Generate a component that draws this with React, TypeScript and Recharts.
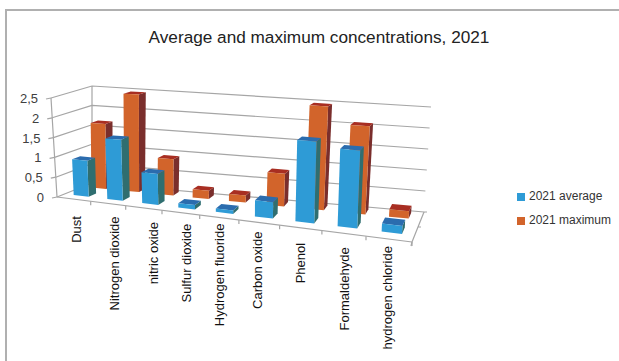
import React from 'react';
import { BarChart, Bar, XAxis, YAxis, CartesianGrid, Legend } from 'recharts';

const CATEGORIES = ['Dust', 'Nitrogen dioxide', 'nitric oxide', 'Sulfur dioxide', 'Hydrogen fluoride', 'Carbon oxide', 'Phenol', 'Formaldehyde', 'hydrogen chloride'];
const AVERAGE = [0.9, 1.5, 0.75, 0.1, 0.08, 0.37, 1.82, 1.7, 0.17];
const MAXIMUM = [1.65, 2.45, 0.9, 0.2, 0.17, 0.78, 2.45, 2.05, 0.17];
const Y_TICKS = [0, 0.5, 1, 1.5, 2, 2.5];

// small hand offsets for the rotated category labels
const LABEL_DX = [7, 11, 14, 10, 5, 3, 4, 5, 3];
const LABEL_DY = [17, 13, 14, 11, 6, 9, 15, 14, 7];

const rows = CATEGORIES.map((name, i) => ({ name, average: AVERAGE[i], maximum: MAXIMUM[i] }));

// flat plot rectangle that recharts lays the scales out in
const PLOT = { left: 100, top: 60, width: 360, height: 200 };
const BAR_W = 18;

type Pt = [number, number];

// floor corners of the 3D box on screen: front left, front right, back right, back left
const FLOOR: Pt[] = [[57, 197], [412, 242], [424, 212], [92, 183]];
// screen vector of the full value axis at those same corners
const RISE: Pt[] = [[-6, -99], [6, -122], [7, -105], [0, -97]];

const bilinear = (q: Pt[], u: number, w: number): Pt => {
  const a = (1 - u) * (1 - w), b = u * (1 - w), c = u * w, d = (1 - u) * w;
  return [a * q[0][0] + b * q[1][0] + c * q[2][0] + d * q[3][0], a * q[0][1] + b * q[1][1] + c * q[2][1] + d * q[3][1]];
};

// u along categories, v up the value axis, w into the depth
function project(u: number, v: number, w: number): Pt {
  const s = u / (1.19 - 0.19 * u); // slots widen towards the viewer
  const f = bilinear(FLOOR, s, w);
  const r = bilinear(RISE, s, w);
  return [f[0] + r[0] * v, f[1] + r[1] * v];
}

const toU = (x: number) => (x - PLOT.left) / PLOT.width;
const toV = (y: number) => (PLOT.top + PLOT.height - y) / PLOT.height;
const path = (pts: Pt[]) => 'M' + pts.map((p) => p[0].toFixed(1) + ' ' + p[1].toFixed(1)).join('L') + 'Z';
const seg = (a: Pt, b: Pt) => 'M' + a[0].toFixed(1) + ' ' + a[1].toFixed(1) + 'L' + b[0].toFixed(1) + ' ' + b[1].toFixed(1);

const Box3D = ({ x, y, width, height, depth, front, side, top }: any) => {
  const u0 = toU(x), u1 = toU(x + width);
  const v = toV(y), v0 = toV(y + height);
  const [w0, w1] = depth;
  return (
    <g>
      <path d={path([project(u1, v0, w0), project(u1, v0, w1), project(u1, v, w1), project(u1, v, w0)])} fill={side} />
      <path d={path([project(u0, v, w0), project(u1, v, w0), project(u1, v, w1), project(u0, v, w1)])} fill={top} />
      <path d={path([project(u0, v0, w0), project(u1, v0, w0), project(u1, v, w0), project(u0, v, w0)])} fill={front} />
    </g>
  );
};

// each horizontal grid line wraps around the left and back walls
const WallLine = ({ y1 }: any) => {
  const v = toV(y1);
  const d = seg(project(0, v, 0), project(0, v, 1)) + seg(project(0, v, 1), project(1, v, 1));
  const tickEnd = project(0, v, 0);
  return (
    <g>
      <path d={d} fill="none" stroke="#a6a6a6" strokeWidth={1.2} />
      <path d={seg(tickEnd, [tickEnd[0] - 5, tickEnd[1] + 1])} stroke="#a6a6a6" strokeWidth={1.2} />
      {v < 0.001 && (
        <path
          d={seg(project(0, 0, 0), project(1, 0, 0)) + seg(project(1, 0, 0), project(1, 0, 1)) +
            seg(project(1, 0, 0), [project(1, 0, 0)[0] - 1, project(1, 0, 0)[1] + 4]) +
            seg(project(1, 0, 0.5), [project(1, 0, 0.5)[0] + 3, project(1, 0, 0.5)[1]]) +
            seg(project(1, 0, 1), [project(1, 0, 1)[0] + 3, project(1, 0, 1)[1]]) +
            seg(project(0, 0, 0), project(0, 1, 0)) + seg(project(0, 0, 1), project(0, 1, 1))}
          fill="none"
          stroke="#a6a6a6"
          strokeWidth={1.2}
        />
      )}
    </g>
  );
};

const ValueTick = ({ y, payload }: any) => {
  const p = project(0, toV(y), 0);
  return (
    <text x={p[0] - 13} y={p[1] + 5} textAnchor="end" fontSize={13} fontFamily="Liberation Sans" fill="#404040">
      {String(payload.value).replace('.', ',')}
    </text>
  );
};

const CategoryTick = ({ x, index, payload }: any) => {
  const u = toU(x);
  const p = project(u, 0, 0);
  const edge = project(u + 0.5 / CATEGORIES.length, 0, 0);
  return (
    <g>
      <path d={seg(edge, [edge[0], edge[1] + 4])} stroke="#a6a6a6" strokeWidth={1.2} />
      <text
        transform={`translate(${p[0] + LABEL_DX[index]} ${p[1] + LABEL_DY[index]}) rotate(-90)`}
        textAnchor="end"
        fontSize={13}
        fontFamily="Liberation Sans"
        fill="#111"
      >
        {payload.value}
      </text>
    </g>
  );
};

export default function App() {
  return (
    <div style={{ position: 'fixed', left: 0, top: 0, width: 619, height: 361, background: '#fff', overflow: 'hidden' }}>
      <div style={{ position: 'absolute', left: 5, top: 9, width: 700, height: 400, border: '2px solid #b0b0b0' }} />
      <BarChart
        width={619}
        height={361}
        data={rows}
        barSize={BAR_W}
        barGap={-BAR_W}
        margin={{ left: 0, top: PLOT.top, right: 619 - PLOT.left - PLOT.width, bottom: 0 }}
        style={{ position: 'absolute', left: 0, top: 0 }}
      >
        <text x={319} y={43} textAnchor="middle" fontSize={17.2} fontFamily="Liberation Sans" fill="#222">
          Average and maximum concentrations, 2021
        </text>
        <CartesianGrid vertical={false} horizontal={(p: any) => <WallLine key={p.index} {...p} />} />
        <XAxis dataKey="name" height={361 - PLOT.top - PLOT.height} axisLine={false} tickLine={false} interval={0} tick={(p: any) => <CategoryTick {...p} />} />
        <YAxis domain={[0, 2.5]} ticks={Y_TICKS} interval={0} width={PLOT.left} axisLine={false} tickLine={false} tick={(p: any) => <ValueTick {...p} />} />
        <Legend
          layout="vertical"
          align="center"
          verticalAlign="middle"
          iconType="square"
          iconSize={8}
          formatter={(v: string) => <span style={{ color: '#333', whiteSpace: 'nowrap' }}>{v}</span>}
          wrapperStyle={{ left: 517, top: 184, width: 102, whiteSpace: 'nowrap', fontFamily: 'Liberation Sans', fontSize: 12, lineHeight: '24px' }}
        />
        <Bar
          dataKey="maximum"
          name="2021 maximum"
          fill="#d2642b"
          isAnimationActive={false}
          shape={(p: any) => <Box3D {...p} depth={[0.74, 0.93]} front="#d2642b" side="#7a2e2c" top="#a82e22" />}
        />
        <Bar
          dataKey="average"
          name="2021 average"
          fill="#2e9bd6"
          isAnimationActive={false}
          shape={(p: any) => <Box3D {...p} depth={[0.22, 0.44]} front="#2e9bd6" side="#2f6e70" top="#2b6cae" />}
        />
      </BarChart>
    </div>
  );
}
